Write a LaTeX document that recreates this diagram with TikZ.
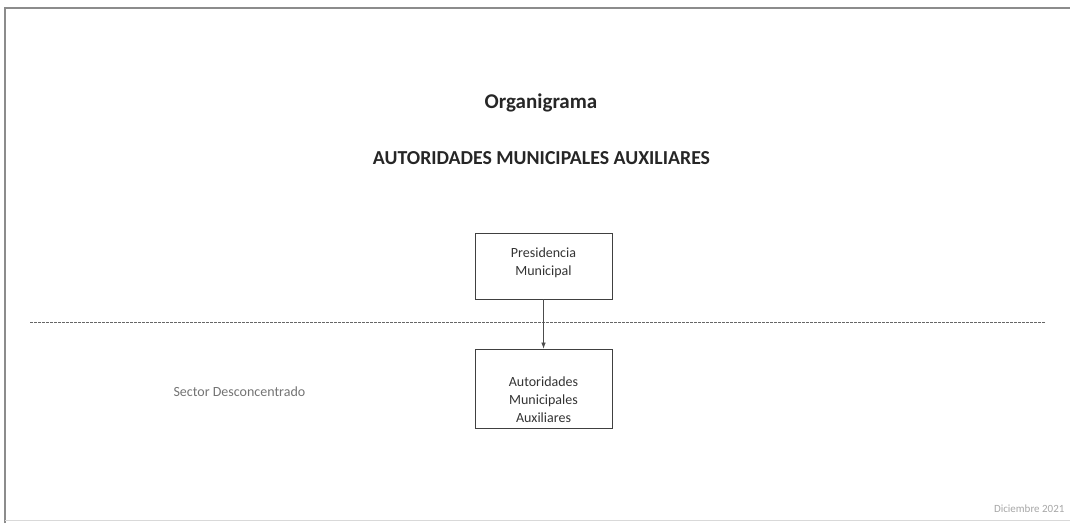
\documentclass[tikz,border=0pt]{standalone}
\usepackage{fontspec}
\setmainfont{Carlito}
\usetikzlibrary{arrows.meta}

\begin{document}
\begin{tikzpicture}[x=1pt, y=-1pt]
        \tikzstyle{caja}=[draw=black!75, line width=0.8pt, minimum width=137pt]
        \tikzstyle{texto}=[align=center, text=black!80, font=\fontsize{14}{18}\selectfont]
        \tikzstyle{flecha}=[black!70, line width=0.7pt, -{Latex[length=6pt, width=4.5pt]}]
        \useasboundingbox (0,0) rectangle (1070,523);
        % marco de la hoja
        \draw[black!45, line width=1.2pt] (5,523) -- (5,8) -- (1070,8);
        \draw[black!15, line width=0.6pt] (5,520) -- (1070,520);
        % encabezado
        \node[text=black!85, font=\bfseries\fontsize{21}{24}\selectfont] (titulo) at (541,103) {Organigrama};
        \node[text=black!85, font=\bfseries\fontsize{19.8}{23}\selectfont] (subtitulo) at (541.5,158) {AUTORIDADES MUNICIPALES AUXILIARES};
        % organos
        \node[caja, minimum height=66pt] (pres) at (543.5,266) {};
        \node[texto] (prestxt) at ([yshift=3pt]pres.center) {Presidencia\\Municipal};
        \node[caja, minimum height=79pt] (aux) at (543.5,388.5) {};
        \node[texto] (auxtxt) at ([yshift=-11pt]aux.center) {Autoridades\\Municipales\\Auxiliares};
        \draw[dashed, dash pattern=on 2.5pt off 1.5pt, black!60, line width=0.7pt] (30,322) -- (1045,322);
        \draw[flecha] (pres) -- (aux);
        \node[anchor=west, text=black!55, font=\fontsize{14}{17}\selectfont] (sector) at (170,392) {Sector Desconcentrado};
        \node[anchor=east, text=black!35, font=\fontsize{11}{13}\selectfont] (fecha) at (1068,509) {Diciembre 2021};
\end{tikzpicture}
\end{document}
